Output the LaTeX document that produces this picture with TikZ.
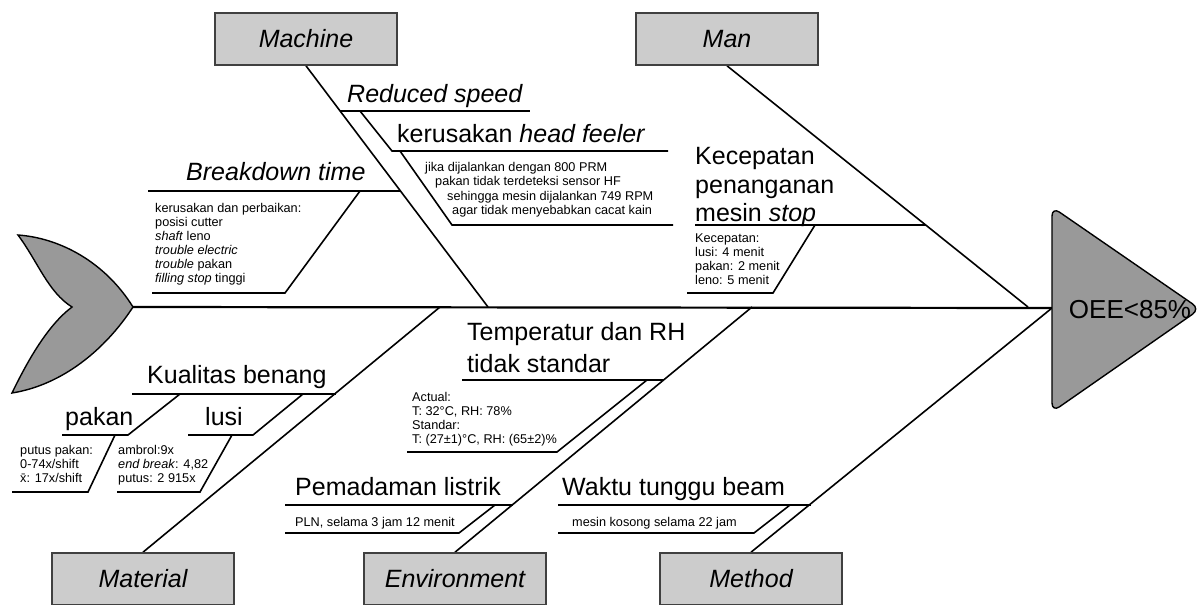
\documentclass[tikz,border=0pt]{standalone}
\usepackage{fontspec}
\setmainfont{Liberation Sans}
\pgfdeclarelayer{bg}
\pgfsetlayers{bg,main}
\newcommand\bigfont{\fontsize{25}{30}\selectfont}
\newcommand\smallfont{\fontsize{12.7}{14}\selectfont}
\tikzset{
    cause/.style={draw=black!75, line width=1.6pt, fill=black!20, minimum width=182pt, minimum height=52pt, inner sep=0pt, font=\bigfont\itshape},
    lbl/.style={inner sep=0pt, anchor=base west, font=\bigfont},
    note/.style={inner sep=0pt, anchor=base west, font=\smallfont},
    bone/.style={line width=1.6pt},
    fish/.style={draw=black, line width=1.4pt, fill=black!40}
}

\begin{document}
\begin{tikzpicture}[x=1pt, y=-1pt]
        \useasboundingbox (0,0) rectangle (1202,605);
        \node[cause] (machine) at (306,39) {Machine};
        \node[cause] (man) at (727,39) {Man};
        \node[cause] (material) at (143,579) {Material};
        \node[cause] (environment) at (455,579) {Environment};
        \node[cause] (method) at (751,579) {Method};
        \coordinate (tail) at (133,307);
        \coordinate (head) at (1052,308);
        \coordinate (mB) at (488,307);
        \coordinate (nB) at (1028,307);
        \coordinate (tB) at (440,307);
        \coordinate (eB) at (752,307);
        \draw[fish] (tail) .. controls (105,262) and (60,238) .. (18,235) .. controls (38,262) and (48,292) .. (72,307) .. controls (48,325) and (28,360) .. (12,393) .. controls (62,385) and (105,350) .. (tail) -- cycle;
        \draw[fish, rounded corners=9pt] (1052,207) -- (1200,309) -- (1052,412) -- cycle;
        \node[font=\fontsize{26}{30}\selectfont, inner sep=0pt] (oee) at (1130,310) {OEE<85\%};
        \node[lbl] (rs) at (347,102) {\textit{Reduced speed}};
        \node[lbl] (hf) at (397,142) {kerusakan \textit{head feeler}};
        \node[note] (hf1) at (425,171) {jika dijalankan dengan 800 PRM};
        \node[note] (hf2) at (435,185) {pakan tidak terdeteksi sensor HF};
        \node[note] (hf3) at (447,200) {sehingga mesin dijalankan 749 RPM};
        \node[note] (hf4) at (452,214) {agar tidak menyebabkan cacat kain};
        \node[lbl] (bd) at (186,180) {\textit{Breakdown time}};
        \node[note] (bd1) at (155,212) {kerusakan dan perbaikan:};
        \node[note] (bd2) at (155,226) {posisi cutter};
        \node[note] (bd3) at (155,240) {\textit{shaft} leno};
        \node[note] (bd4) at (155,254) {\textit{trouble electric}};
        \node[note] (bd5) at (155,268) {\textit{trouble} pakan};
        \node[note] (bd6) at (155,282) {\textit{filling stop} tinggi};
        \node[lbl] (kc1) at (695,164) {Kecepatan};
        \node[lbl] (kc2) at (695,193) {penanganan};
        \node[lbl] (kc3) at (695,221) {mesin \textit{stop}};
        \node[note] (kn1) at (695,242) {Kecepatan:};
        \node[note] (kn2) at (695,256) {lusi: 4 menit};
        \node[note] (kn3) at (695,270) {pakan: 2 menit};
        \node[note] (kn4) at (695,284) {leno: 5 menit};
        \node[lbl] (kb) at (147,383) {Kualitas benang};
        \node[lbl] (pk) at (65,425) {pakan};
        \node[lbl] (ls) at (205,425) {lusi};
        \node[note] (pk1) at (20,454) {putus pakan:};
        \node[note] (pk2) at (20,468) {0-74x/shift};
        \node[note] (pk3) at (20,482) {\={x}: 17x/shift};
        \node[note] (ls1) at (118,454) {ambrol:9x};
        \node[note] (ls2) at (118,468) {\textit{end break}: 4,82};
        \node[note] (ls3) at (118,482) {putus: 2 915x};
        \node[lbl] (tp1) at (467,340) {Temperatur dan RH};
        \node[lbl] (tp2) at (467,372) {tidak standar};
        \node[note] (tn1) at (412,401) {Actual:};
        \node[note] (tn2) at (412,415) {T: 32°C, RH: 78\%};
        \node[note] (tn3) at (412,429) {Standar:};
        \node[note] (tn4) at (412,443) {T: (27±1)°C, RH: (65±2)\%};
        \node[lbl] (pl) at (295,495) {Pemadaman listrik};
        \node[note] (pn) at (295,526) {PLN, selama 3 jam 12 menit};
        \node[lbl] (wt) at (562,495) {Waktu tunggu beam};
        \node[note] (wn) at (572,526) {mesin kosong selama 22 jam};
        \begin{pgfonlayer}{bg}
                \draw[line width=2.2pt] (tail) -- (head);
                \draw[bone] (machine.south) -- (mB);
                \draw[bone] (man.south) -- (nB);
                \draw[bone] (material.north) -- (tB);
                \draw[bone] (environment.north) -- (eB);
                \draw[bone] (method.north) -- (head);
                \draw[bone] (340,111) -- (530,111);
                \draw[bone] (360,111) -- (392,151) -- (668,151);
                \draw[bone] (400,151) -- (452,225) -- (673,225);
                \draw[bone] (148,191) -- (400,191);
                \draw[bone] (360,191) -- (285,293) -- (152,293);
                \draw[bone] (695,225) -- (926,225);
                \draw[bone] (815,225) -- (773,293) -- (687,293);
                \draw[bone] (132,394) -- (336,394);
                \draw[bone] (180,394) -- (128,435) -- (62,435);
                \draw[bone] (115,435) -- (88,492) -- (12,492);
                \draw[bone] (303,394) -- (253,435) -- (188,435);
                \draw[bone] (232,435) -- (200,492) -- (117,492);
                \draw[bone] (462,380) -- (664,380);
                \draw[bone] (647,380) -- (557,452) -- (407,452);
                \draw[bone] (285,505) -- (513,505);
                \draw[bone] (495,505) -- (459,533) -- (285,533);
                \draw[bone] (558,505) -- (811,505);
                \draw[bone] (790,505) -- (754,533) -- (558,533);
        \end{pgfonlayer}
\end{tikzpicture}
\end{document}
